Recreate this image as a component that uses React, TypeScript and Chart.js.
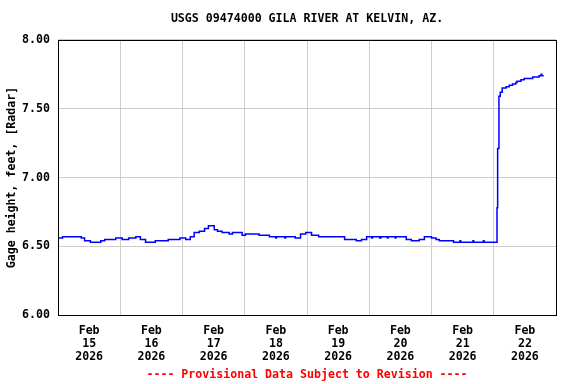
import React, { useEffect, useRef } from 'react';
import { Chart, registerables } from 'chart.js';

Chart.register(...registerables);

// Hours since Feb 15 2026 00:00
const hours = [
  0, 1.75, 9, 10.25, 12.5, 16.5, 18, 22.25, 24.75, 27.25, 30, 31.75, 33.75, 37.5, 42.5, 47, 49.25,
  51, 52.5, 54.5, 56.5, 58, 60.25, 61.5, 63.25, 66, 67.25, 71, 72.25, 77.5, 81.5, 84, 84.25, 87.5, 87.75,
  91.5, 93.5, 95.5, 97.75, 100.5, 110.5, 115, 117, 119, 121, 121.25, 124, 124.5, 127, 127.25, 130, 130.25,
  134.25, 136.25, 139.25, 141.25, 144, 145.75, 147, 152.5, 155, 155.25, 160, 160.25, 164, 164.25,
  169.25, 169.5, 170, 170.5, 171.25, 172.75, 174, 175.25, 176.5, 177, 178.5, 179.75, 183, 184.25,
  185.5, 186.25, 186.5, 187.25,
];
// Gage height, feet
const stage = [
  6.56, 6.57, 6.56, 6.54, 6.53, 6.54, 6.55, 6.56, 6.55, 6.56, 6.57, 6.55, 6.53, 6.54, 6.55, 6.56, 6.55,
  6.57, 6.60, 6.61, 6.63, 6.65, 6.62, 6.61, 6.60, 6.59, 6.60, 6.58, 6.59, 6.58, 6.57, 6.56, 6.57, 6.56, 6.57,
  6.56, 6.59, 6.60, 6.58, 6.57, 6.55, 6.54, 6.55, 6.57, 6.56, 6.57, 6.56, 6.57, 6.56, 6.57, 6.56, 6.57,
  6.55, 6.54, 6.55, 6.57, 6.56, 6.55, 6.54, 6.53, 6.54, 6.53, 6.54, 6.53, 6.54, 6.53,
  6.78, 7.21, 7.59, 7.62, 7.65, 7.66, 7.67, 7.68, 7.69, 7.70, 7.71, 7.72, 7.73, 7.73,
  7.74, 7.75, 7.74, 7.74,
];

const dayLabels = ['15', '16', '17', '18', '19', '20', '21', '22'];
const monthLabel = 'Feb';
const yearLabel = '2026';
const yMin = 6;
const yMax = 8;
const yStep = 0.5;

const titleText = 'USGS 09474000 GILA RIVER AT KELVIN, AZ.';
const yTitleText = 'Gage height, feet, [Radar]';
const footerText = '---- Provisional Data Subject to Revision ----';

const FAMILY = "'DejaVu Sans Mono', 'Liberation Mono', monospace";
const FS = 11.6;

const framePlugin = {
  id: 'frame',
  afterDraw(chart: any) {
    const { ctx, chartArea: a } = chart;
    ctx.save();
    ctx.strokeStyle = '#000';
    ctx.lineWidth = 1;
    ctx.strokeRect(
      Math.round(a.left) + 0.5,
      Math.round(a.top) + 0.5,
      Math.round(a.right - a.left),
      Math.round(a.bottom - a.top)
    );
    ctx.restore();
  },
};

export default function App() {
  const ref = useRef<HTMLCanvasElement>(null);

  useEffect(() => {
    if (!ref.current) return;
    const data = hours.map((h, i) => ({ x: h, y: stage[i] }));
    const chart = new Chart(ref.current, {
      type: 'line',
      data: {
        datasets: [
          {
            data,
            borderColor: '#0000ff',
            borderWidth: 1.5,
            pointRadius: 0,
            stepped: 'before',
            fill: false,
          },
        ],
      },
      options: {
        animation: false,
        responsive: false,
        events: [],
        layout: { padding: { left: 0, right: 20, top: 0, bottom: 0 } },
        plugins: {
          legend: { display: false },
          tooltip: { enabled: false },
          title: {
            display: true,
            text: titleText,
            color: '#000',
            fullSize: false,
            font: { family: FAMILY, size: FS, weight: 'bold', lineHeight: 1.2 },
            padding: { top: 12, bottom: 14 },
          },
          subtitle: {
            display: true,
            position: 'bottom',
            text: footerText,
            color: '#ff0000',
            fullSize: false,
            font: { family: FAMILY, size: FS, weight: 'bold', lineHeight: 1.2 },
            padding: { top: 3, bottom: 2 },
          },
        },
        scales: {
          x: {
            type: 'linear',
            min: 0,
            max: dayLabels.length * 24,
            afterFit: (s: any) => {
              s.height = 50;
            },
            grid: {
              drawTicks: false,
              lineWidth: 1,
              color: (c: any) => {
                const v = c.tick ? c.tick.value : -1;
                return v % 24 === 0 ? '#cccccc' : 'rgba(0,0,0,0)';
              },
            },
            border: { display: false },
            ticks: {
              stepSize: 12,
              autoSkip: false,
              maxRotation: 0,
              minRotation: 0,
              padding: 9,
              color: '#000',
              font: { family: FAMILY, size: FS, weight: 'bold', lineHeight: 13 / FS },
              callback: (v: any) => {
                const h = Number(v);
                if (h % 24 !== 12) return '';
                const d = Math.floor(h / 24);
                return [monthLabel, dayLabels[d], yearLabel];
              },
            },
          },
          y: {
            type: 'linear',
            min: yMin,
            max: yMax,
            afterFit: (s: any) => {
              s.width = 58;
            },
            grid: { drawTicks: false, color: '#cccccc', lineWidth: 1 },
            border: { display: false },
            ticks: {
              stepSize: yStep,
              padding: 8,
              color: '#000',
              font: { family: FAMILY, size: FS, weight: 'bold' },
              callback: (v: any) => Number(v).toFixed(2),
            },
            title: {
              display: true,
              text: yTitleText,
              color: '#000',
              font: { family: FAMILY, size: FS, weight: 'bold', lineHeight: 1.2 },
              padding: { top: 5, bottom: 0 },
            },
          },
        },
      },
      plugins: [framePlugin],
    } as any);
    return () => chart.destroy();
  }, []);

  return (
    <div style={{ position: 'fixed', left: 0, top: 0, width: 576, height: 384, background: '#fff' }}>
      <canvas ref={ref} width={576} height={384} />
    </div>
  );
}
